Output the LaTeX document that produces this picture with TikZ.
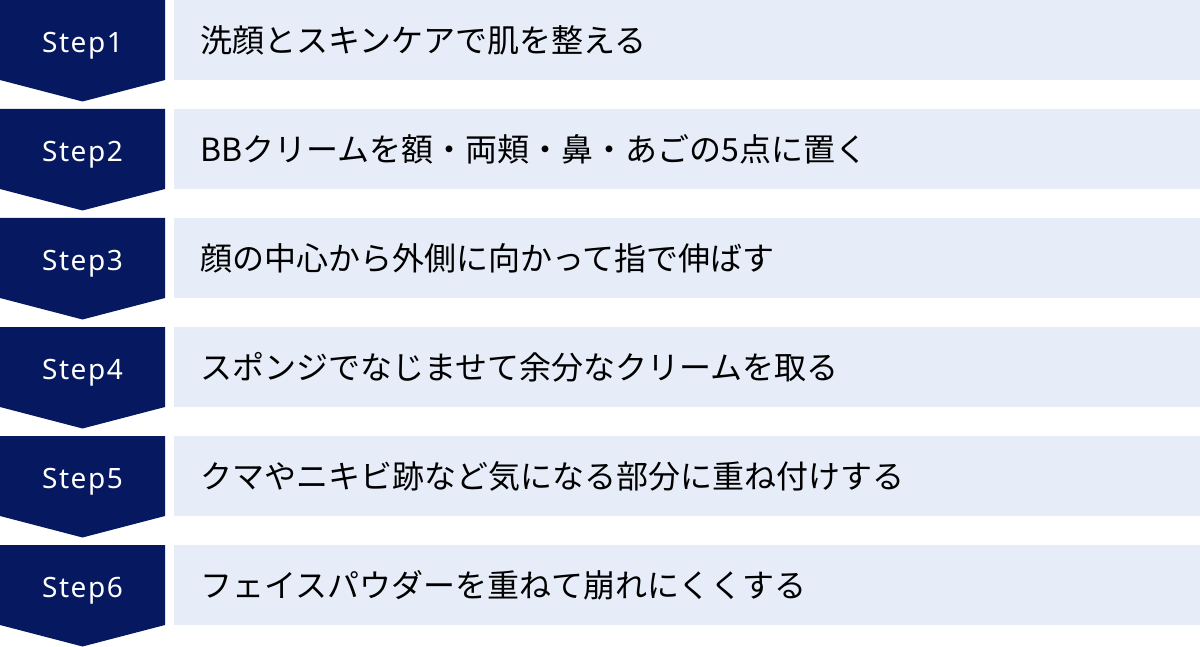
\documentclass[tikz,border=0pt]{standalone}
\usepackage{fontspec}
\setmainfont{Noto Sans}
\newfontfamily\jpfont{Noto Sans CJK JP}
\definecolor{navy}{HTML}{061960}
\definecolor{paleblue}{HTML}{E6ECF8}
\tikzset{
  stepshape/.style={fill=navy, draw=none},
  itembox/.style={fill=paleblue, draw=none},
  steplabel/.style={text=white, anchor=base, inner sep=0pt, font=\fontsize{28}{32}\selectfont},
  itemtext/.style={text=black, anchor=west, inner sep=0pt, font=\jpfont\fontsize{32}{38}\selectfont},
}
\begin{document}
\begin{tikzpicture}[x=1pt,y=-1pt]
\useasboundingbox (0,0) rectangle (1200,647);
\foreach \i/\txt in {1/洗顔とスキンケアで肌を整える,
  2/BBクリームを額・両頬・鼻・あごの5点に置く,
  3/顔の中心から外側に向かって指で伸ばす,
  4/スポンジでなじませて余分なクリームを取る,
  5/クマやニキビ跡など気になる部分に重ね付けする,
  6/フェイスパウダーを重ねて崩れにくくする}{
  \pgfmathsetmacro{\t}{109*(\i-1)}
  \fill[stepshape] (0,\t) -- (165,\t) -- (165,\t+80) -- (82.5,\t+101.5) -- (0,\t+80) -- cycle;
  \fill[itembox] (174,\t) rectangle (1200,\t+80);
  \node[steplabel] (step\i) at (82.5,\t+52.5) {S\kern1.6pt t\kern1.6pt e\kern1.6pt p\kern1.6pt \i};
  \node[itemtext] (item\i) at (200,\t+40) {\txt};
}
\end{tikzpicture}
\end{document}
